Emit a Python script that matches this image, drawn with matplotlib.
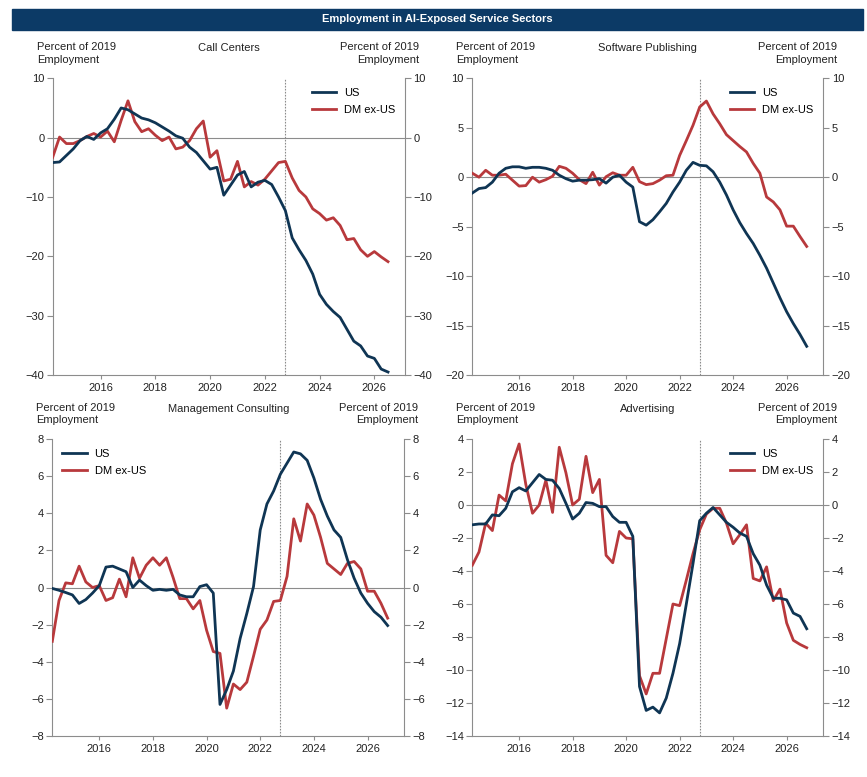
import numpy as np
import matplotlib
matplotlib.use("Agg")
from matplotlib import pyplot as plt

plt.rcParams['font.family'] = ['Liberation Sans', 'DejaVu Sans']

# quarterly dates, first point 2014Q2
start = 2014.25

call_us = [-4.2, -4.1, -3.0, -1.9, -0.5, 0.2, -0.3, 0.8, 1.5, 3.1,
           5.0, 4.7, 4.0, 3.3, 3.0, 2.5, 1.8, 1.1, 0.3, -0.1,
           -1.6, -2.5, -3.9, -5.3, -5.0, -9.7, -8.0, -6.3, -5.7, -8.3,
           -7.5, -7.2, -7.9, -10.0, -12.3, -16.9, -18.9, -20.7, -23.0, -26.4,
           -28.1, -29.3, -30.3, -32.3, -34.3, -35.1, -36.8, -37.2, -39.0, -39.5]
call_dm = [-3.3, 0.1, -1.0, -1.0, -0.5, 0.2, 0.7, 0.1, 1.1, -0.7,
           2.9, 6.2, 2.7, 1.0, 1.5, 0.4, -0.5, 0.1, -1.9, -1.6,
           -0.5, 1.5, 2.8, -3.3, -2.2, -7.3, -7.0, -4.0, -8.3, -7.4,
           -8.0, -7.0, -5.6, -4.2, -4.0, -6.8, -8.9, -10.0, -12.0, -12.8,
           -13.9, -13.5, -14.8, -17.2, -17.0, -18.9, -20.0, -19.2, -20.1, -20.9]

soft_us = [-1.6, -1.15, -1.05, -0.5, 0.4, 0.9, 1.05, 1.05, 0.9, 1.0,
           1.0, 0.9, 0.7, 0.2, -0.15, -0.4, -0.3, -0.3, -0.25, -0.15,
           -0.6, 0.0, 0.2, -0.5, -1.0, -4.5, -4.85, -4.3, -3.5, -2.65,
           -1.5, -0.5, 0.7, 1.5, 1.2, 1.15, 0.55, -0.5, -1.8, -3.3,
           -4.6, -5.7, -6.7, -7.9, -9.2, -10.7, -12.2, -13.6, -14.8, -15.9,
           -17.1]
soft_dm = [0.4, 0.0, 0.7, 0.2, 0.2, 0.3, -0.3, -0.9, -0.85, 0.0,
           -0.5, -0.25, 0.1, 1.1, 0.9, 0.4, -0.25, -0.65, 0.5, -0.8,
           0.05, 0.45, 0.2, 0.2, 1.0, -0.45, -0.75, -0.65, -0.3, 0.15,
           0.2, 2.2, 3.7, 5.25, 7.1, 7.7, 6.4, 5.4, 4.3, 3.7,
           3.1, 2.55, 1.4, 0.4, -2.0, -2.5, -3.3, -4.95, -4.95, -6.0,
           -7.0]

mgmt_us = [-0.05, -0.15, -0.27, -0.4, -0.86, -0.65, -0.3, 0.1, 1.1, 1.15,
           1.0, 0.85, 0.0, 0.4, 0.1, -0.15, -0.1, -0.15, -0.1, -0.4,
           -0.5, -0.5, 0.05, 0.15, -0.3, -6.3, -5.5, -4.5, -2.75, -1.4,
           0.05, 3.1, 4.5, 5.2, 6.1, 6.7, 7.3, 7.2, 6.85, 5.9,
           4.75, 3.85, 3.1, 2.7, 1.5, 0.5, -0.3, -0.85, -1.3, -1.6,
           -2.05]
mgmt_dm = [-2.9, -0.7, 0.25, 0.2, 1.15, 0.3, 0.0, 0.1, -0.7, -0.55,
           0.45, -0.5, 1.6, 0.5, 1.2, 1.6, 1.2, 1.6, 0.55, -0.6,
           -0.6, -1.15, -0.7, -2.3, -3.45, -3.55, -6.5, -5.2, -5.5, -5.1,
           -3.7, -2.25, -1.75, -0.75, -0.7, 0.6, 3.7, 2.5, 4.5, 3.9,
           2.7, 1.3, 1.0, 0.7, 1.3, 1.4, 1.0, -0.2, -0.2, -0.85,
           -1.65]

adv_us = [-1.2, -1.15, -1.15, -0.6, -0.65, -0.2, 0.8, 1.05, 0.85, 1.35,
          1.85, 1.55, 1.5, 1.0, 0.1, -0.85, -0.5, 0.15, 0.1, -0.1,
          -0.1, -0.7, -1.05, -1.05, -1.9, -11.0, -12.45, -12.25, -12.6, -11.7,
          -10.2, -8.4, -6.0, -3.55, -0.95, -0.5, -0.15, -0.6, -1.05, -1.35,
          -1.7, -1.9, -2.95, -3.65, -4.85, -5.65, -5.65, -5.75, -6.55, -6.75,
          -7.5]
adv_dm = [-3.65, -2.85, -1.1, -1.55, 0.6, 0.25, 2.5, 3.7, 1.25, -0.5,
          0.0, 1.5, -0.45, 3.5, 1.95, 0.0, 0.35, 2.95, 0.75, 1.55,
          -3.05, -3.5, -1.6, -2.0, -2.05, -10.35, -11.45, -10.2, -10.2, -8.1,
          -6.0, -6.1, -4.55, -2.95, -1.5, -0.55, -0.2, -0.2, -1.1, -2.35,
          -1.8, -1.2, -4.45, -4.6, -3.75, -5.8, -5.1, -7.15, -8.2, -8.45,
          -8.65]

titles = ["Call Centers", "Software Publishing", "Management Consulting", "Advertising"]
series = [(call_us, call_dm), (soft_us, soft_dm), (mgmt_us, mgmt_dm), (adv_us, adv_dm)]
ylims = [(-40, 10), (-20, 10), (-8, 8), (-14, 4)]
ysteps = [10, 5, 2, 2]
xright = [2027.12, 2027.37, 2027.37, 2027.37]
legend_loc = ["upper right", "upper right", "upper left", "upper right"]
xticks = [2016, 2018, 2020, 2022, 2024, 2026]
marker_date = 2022.75

navy = "#0f3554"
red = "#b8393c"
grey = "#8c8c8c"
txt = "#222222"

fig = plt.figure(figsize=(8.67, 7.77), dpi=100)
W, H = 867.0, 777.0

# header bar
fig.patches.append(plt.Rectangle((12 / W, 1 - 30 / H), 851 / W, 21 / H,
                                 transform=fig.transFigure, color="#0c3a66", zorder=0))
fig.text(437.5 / W, 1 - 19.5 / H, "Employment in AI-Exposed Service Sectors",
         color="white", fontsize=8, fontweight="bold", ha="center", va="center")

boxes = [(52.7, 78.3, 405, 375), (472.3, 78.3, 823.3, 375),
         (52.3, 439, 404.3, 736), (472.3, 439, 823.3, 736)]

for k in range(4):
    x0, y0, x1, y1 = boxes[k]
    ax = fig.add_axes([x0 / W, 1 - y1 / H, (x1 - x0) / W, (y1 - y0) / H])
    us, dm = series[k]
    xs_us = start + 0.25 * np.arange(len(us))
    xs_dm = start + 0.25 * np.arange(len(dm))
    ax.axhline(0, color=grey, lw=0.8, zorder=1)
    ax.axvline(marker_date, color=grey, lw=0.8, ls=(0, (1.5, 1.2)), zorder=1)
    ax.plot(xs_dm, dm, color=red, lw=2, label="DM ex-US", zorder=3)
    ax.plot(xs_us, us, color=navy, lw=2, label="US", zorder=4)
    lo, hi = ylims[k]
    ax.set_ylim(lo, hi)
    ax.set_xlim(start, xright[k])
    ax.set_yticks(np.arange(lo, hi + 0.01, ysteps[k]))
    ax.set_xticks(xticks)
    for s in ["left", "right", "bottom"]:
        ax.spines[s].set_color(grey)
        ax.spines[s].set_linewidth(0.8)
    ax.spines["top"].set_visible(False)
    ax.yaxis.set_ticks_position("both")
    ax.tick_params(axis="y", labelright=True, direction="out", length=4,
                   color=grey, labelsize=8, labelcolor=txt, pad=2)
    ax.tick_params(axis="x", direction="out", length=3, color=grey,
                   labelsize=8, labelcolor=txt, pad=3)
    h, l = ax.get_legend_handles_labels()
    if legend_loc[k] == "upper right":
        anchor = (1.0, 1.0)
        pad = 0.5
    else:
        anchor = (0.0, 1.0)
        pad = 0.5
    ax.legend(h[::-1], l[::-1], loc=legend_loc[k], frameon=False, fontsize=8,
              handlelength=2.2, handletextpad=0.7, labelspacing=0.6,
              borderaxespad=pad, bbox_to_anchor=anchor)
    # headers above the panel
    ytop = 1 - (y0 - 36) / H
    fig.text((x0 - 16) / W, ytop, "Percent of 2019\nEmployment", fontsize=8,
             color=txt, ha="left", va="top", linespacing=1.3)
    fig.text((x1 + 14) / W, ytop, "Percent of 2019\nEmployment", fontsize=8,
             color=txt, ha="right", va="top", linespacing=1.3)
    fig.text((x0 + x1) / 2 / W, ytop - 1 / H, titles[k], fontsize=8,
             color=txt, ha="center", va="top")

fig.savefig("out.png", dpi=100, facecolor="white")
